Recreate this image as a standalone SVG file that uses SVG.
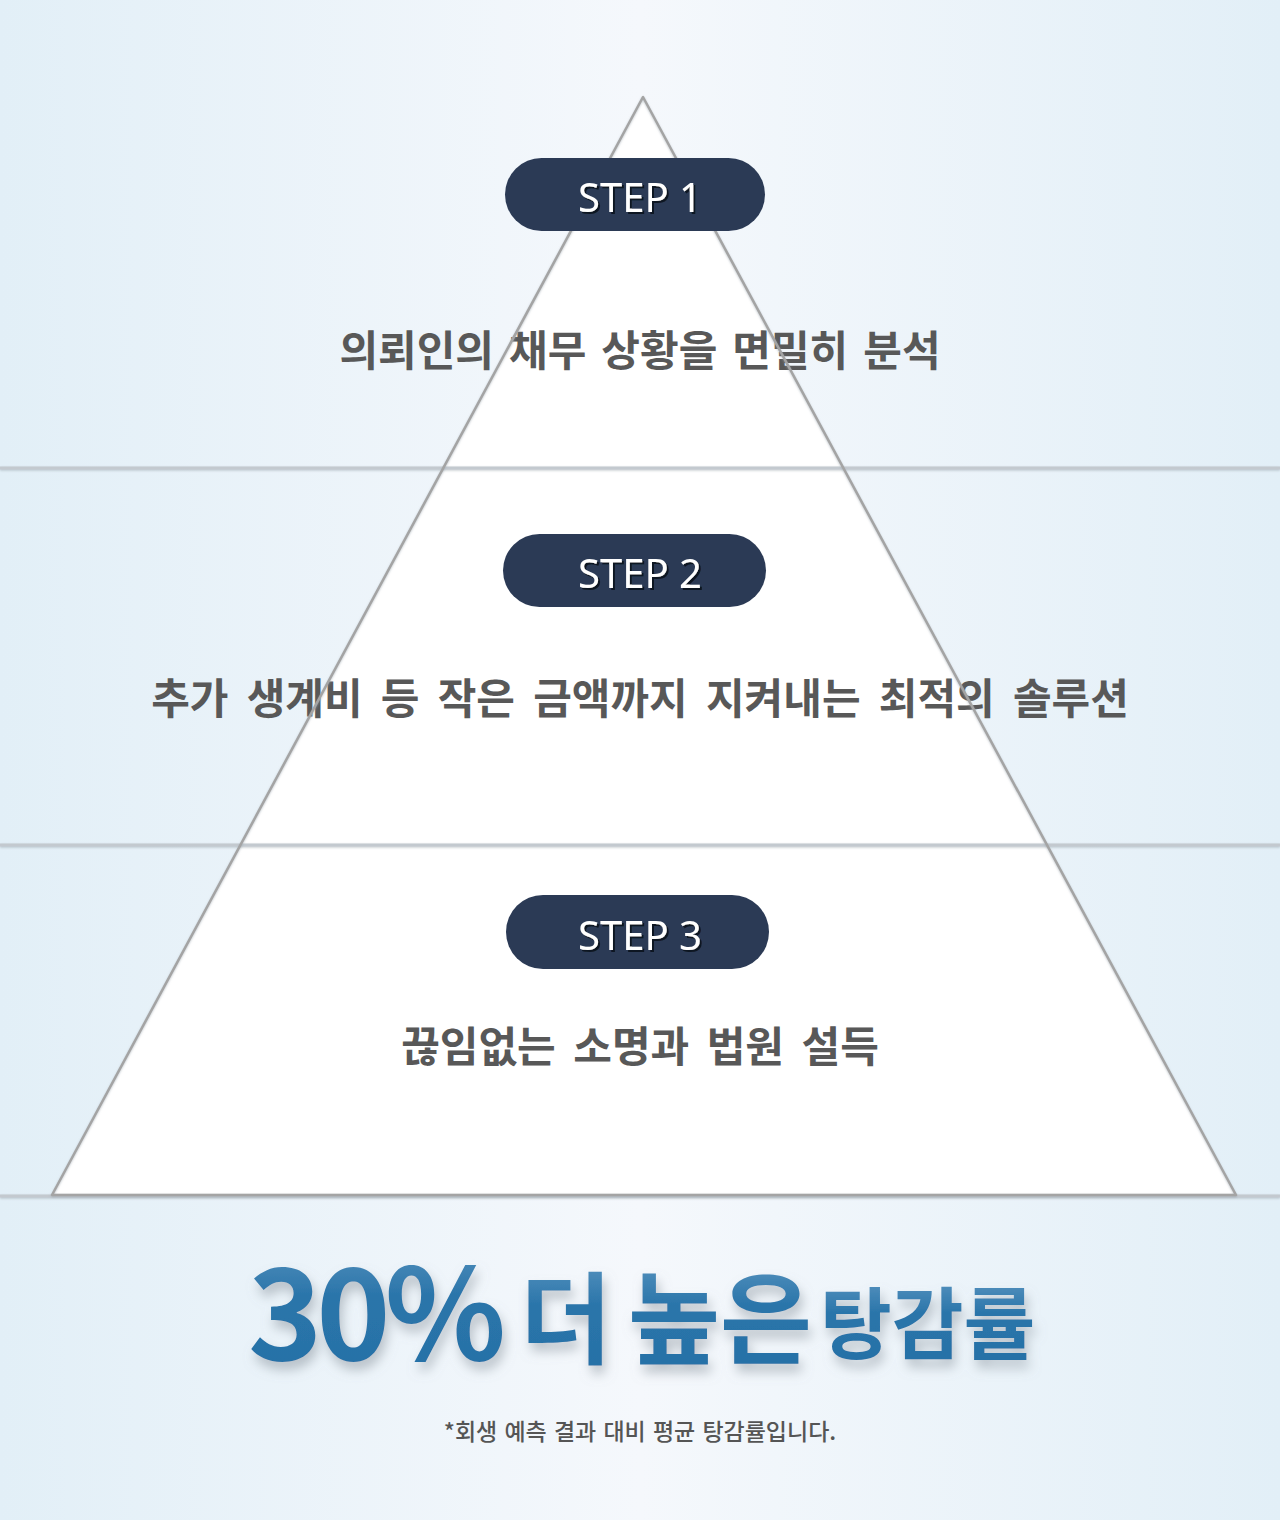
<svg xmlns="http://www.w3.org/2000/svg" width="1280" height="1520" viewBox="0 0 1280 1520">
<defs>
<linearGradient id="bg" x1="0" y1="0" x2="1" y2="0">
<stop offset="0" stop-color="#e2eff7"/>
<stop offset="0.5" stop-color="#f5f8fc"/>
<stop offset="1" stop-color="#e2eff7"/>
</linearGradient>
<linearGradient id="title" x1="0" y1="0" x2="0" y2="1">
<stop offset="0" stop-color="#6a9fc7"/>
<stop offset="0.45" stop-color="#2a75aa"/>
<stop offset="1" stop-color="#2670a6"/>
</linearGradient>
<filter id="tshadow" x="-10%" y="-30%" width="120%" height="170%">
<feDropShadow dx="3" dy="8" stdDeviation="6" flood-color="#8a949e" flood-opacity="0.55"/>
</filter>
<filter id="lshadow" filterUnits="userSpaceOnUse" x="0" y="0" width="1280" height="1520">
<feDropShadow dx="0" dy="1" stdDeviation="1" flood-color="#9aa4ad" flood-opacity="0.6"/>
</filter>
<filter id="stepshadow" x="-10%" y="-30%" width="120%" height="160%">
<feDropShadow dx="2" dy="2" stdDeviation="0.3" flood-color="#0f1624" flood-opacity="1"/>
</filter>
<style>
.pill{fill:#2b3a55;}
.step{font-family:"Noto Sans","Open Sans",sans-serif;font-weight:400;font-size:40px;fill:#ffffff;text-anchor:middle;filter:url(#stepshadow);}
.desc{font-family:"Noto Sans CJK KR",sans-serif;font-weight:700;font-size:42px;fill:#585858;text-anchor:middle;word-spacing:8px;}
.hline{fill:#c3c9cf;}
.tri{fill:none;stroke:#a4a4a4;stroke-width:2.5;stroke-linejoin:round;}
.big{font-family:"Noto Sans CJK KR",sans-serif;font-weight:700;fill:url(#title);}
.note{font-family:"Noto Sans CJK KR",sans-serif;font-weight:500;font-size:23px;fill:#555555;text-anchor:middle;word-spacing:2px;}
</style>
</defs>
<rect x="0" y="0" width="1280" height="1520" fill="url(#bg)"/>
<g id="triangle-fill">
<polygon points="643,97 52,1195 1236,1195" fill="#ffffff"/>
</g>
<g id="connectors" filter="url(#lshadow)">
<rect class="hline" x="0" y="466.5" width="1280" height="3"/>
<rect class="hline" x="0" y="843.5" width="1280" height="3"/>
<rect class="hline" x="0" y="1194.5" width="1280" height="3"/>
</g>
<g id="desc1"><text class="desc" x="640" y="366" style="word-spacing:5.5px">의뢰인의 채무 상황을 면밀히 분석</text></g>
<g id="desc2"><text class="desc" x="640" y="714" style="word-spacing:8.7px">추가 생계비 등 작은 금액까지 지켜내는 최적의 솔루션</text></g>
<g id="desc3"><text class="desc" x="640" y="1062">끊임없는 소명과 법원 설득</text></g>
<g id="triangle-outline">
<polygon class="tri" points="643,97 52,1195 1236,1195" filter="url(#lshadow)"/>
</g>
<g id="step1">
<rect class="pill" x="505" y="158" width="260" height="73" rx="36.5"/>
<text class="step" x="640" y="212">STEP 1</text>
</g>
<g id="step2">
<rect class="pill" x="503" y="534" width="263" height="73" rx="36.5"/>
<text class="step" x="640" y="588">STEP 2</text>
</g>
<g id="step3">
<rect class="pill" x="506" y="895" width="263" height="74" rx="37"/>
<text class="step" x="640" y="950">STEP 3</text>
</g>
<g id="headline" filter="url(#tshadow)">
<text class="big" x="248" y="1360" font-size="126" letter-spacing="-6">30%</text>
<text class="big" x="520" y="1356" font-size="100">더</text>
<text class="big" x="628" y="1356" font-size="100">높은</text>
<text class="big" x="820" y="1353" font-size="78">탕감률</text>
</g>
<g id="footnote"><text class="note" x="640" y="1440">*회생 예측 결과 대비 평균 탕감률입니다.</text></g>
</svg>
